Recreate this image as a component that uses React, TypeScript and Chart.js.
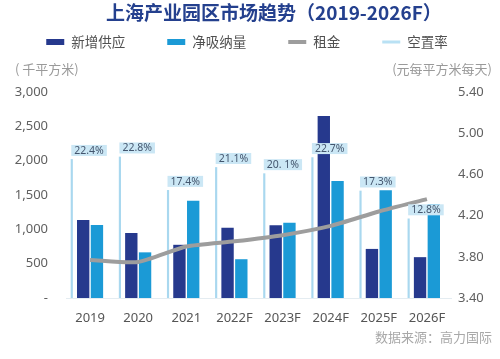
import React, { useEffect, useRef } from 'react';
import { Chart, registerables } from 'chart.js';

Chart.register(...registerables);

// ---------- data ----------
const categories = ['2019', '2020', '2021', '2022F', '2023F', '2024F', '2025F', '2026F'];
const newSupply = [1130, 940, 770, 1020, 1055, 2645, 710, 590];
const netAbsorption = [1060, 660, 1410, 560, 1090, 1700, 1565, 1360];
const rent = [3.77, 3.75, 3.9, 3.95, 4.01, 4.1, 4.24, 4.36];
const vacancyRate = [22.4, 22.8, 17.4, 21.1, 20.1, 22.7, 17.3, 12.8];
const vacancyLabels = ['22.4%', '22.8%', '17.4%', '21.1%', '20. 1%', '22.7%', '17.3%', '12.8%'];
const leftTickLabels = ['-', '500', '1,000', '1,500', '2,000', '2,500', '3,000'];
const rightTickLabels = ['3.40', '3.80', '4.20', '4.60', '5.00', '5.40'];
const seriesNames = ['新增供应', '净吸纳量', '租金', '空置率'];
const titleText = '上海产业园区市场趋势（2019-2026F）';
const leftUnit = '( 千平方米)';
const rightUnit = '(元每平方米每天)';
const sourceText = '数据来源：高力国际';

// ---------- styles ----------
const FONT = '"Noto Sans", "Noto Sans CJK SC", sans-serif';
const CJK_FONT = '"Noto Sans CJK SC", "Noto Sans", sans-serif';
const DARK = '#26398d';
const LIGHT = '#1b9ad6';
const GRAY = '#9d9d9d';
const VAC = '#a9d8ef';
const VAC_LEGEND = '#b9e1f4';
// horizontal offsets (in category widths) of each mark relative to the category centre
const DARK_OFFSET = -0.143;
const LIGHT_OFFSET = 0.143;
const VAC_OFFSET = -0.38;
const BAR_W = 11.7;

const indexed = (arr: number[]) => arr.map((v, i) => ({ x: i, y: v }));

const shiftedAxis = (offset: number) => ({
  type: 'linear',
  display: false,
  offset: false,
  min: -0.5 - offset,
  max: categories.length - 0.5 - offset,
  grid: { display: false, offset: false },
});

const headerPlugin = {
  id: 'header',
  afterDraw(chart: any) {
    const ctx = chart.ctx as CanvasRenderingContext2D;
    ctx.save();
    ctx.textBaseline = 'middle';
    // title
    ctx.font = `bold 19px ${CJK_FONT}`;
    ctx.fillStyle = '#24408e';
    ctx.textAlign = 'left';
    ctx.fillText(titleText, 106, 13);

    // legend
    ctx.font = `13.5px ${CJK_FONT}`;
    const items = chart.data.datasets.map((ds: any) => ({
      text: ds.label as string,
      color: ds.legendColor as string,
      h: ds.legendMarkerHeight as number,
    }));
    const markerW = 18;
    const markerGap = 7;
    const widths = items.map((it: any) => markerW + markerGap + ctx.measureText(it.text).width);
    const gap = 42;
    const total = widths.reduce((a: number, b: number) => a + b, 0) + gap * (items.length - 1);
    let x = 247 - total / 2;
    items.forEach((it: any, i: number) => {
      ctx.fillStyle = it.color;
      ctx.fillRect(x, 42 - it.h / 2, markerW, it.h);
      ctx.fillStyle = '#505050';
      ctx.textAlign = 'left';
      ctx.fillText(it.text, x + markerW + markerGap, 42);
      x += widths[i] + gap;
    });

    // axis units
    ctx.font = `13px ${CJK_FONT}`;
    ctx.fillStyle = '#9a9a9a';
    ctx.textAlign = 'left';
    ctx.fillText(leftUnit, 15, 69);
    ctx.textAlign = 'right';
    ctx.fillText(rightUnit, 492, 69);

    // source
    ctx.fillStyle = '#a8a8a8';
    ctx.fillText(sourceText, 492, 337);
    ctx.restore();
  },
};

const vacancyLabelPlugin = {
  id: 'vacancyLabels',
  afterDatasetsDraw(chart: any) {
    const ctx = chart.ctx as CanvasRenderingContext2D;
    const dsIndex = chart.data.datasets.findIndex((d: any) => d.label === seriesNames[3]);
    const meta = chart.getDatasetMeta(dsIndex);
    ctx.save();
    ctx.font = `10.5px ${FONT}`;
    ctx.textBaseline = 'middle';
    ctx.textAlign = 'left';
    meta.data.forEach((el: any, i: number) => {
      const text = vacancyLabels[i];
      const w = ctx.measureText(text).width + 6;
      const h = 11;
      const left = el.x - 0.5;
      const bottom = el.y - 3.5;
      ctx.fillStyle = '#cbe7f5';
      ctx.fillRect(left, bottom - h, w, h);
      ctx.fillStyle = '#44566e';
      ctx.fillText(text, left + 3, bottom - h / 2 + 0.5);
    });
    ctx.restore();
  },
};

export default function App() {
  const ref = useRef<HTMLCanvasElement>(null);

  useEffect(() => {
    if (!ref.current) return;
    const chart = new Chart(ref.current, {
      type: 'bar',
      data: {
        labels: categories,
        datasets: [
          {
            type: 'bar',
            label: seriesNames[0],
            data: indexed(newSupply),
            backgroundColor: DARK,
            legendColor: DARK,
            legendMarkerHeight: 6,
            xAxisID: 'xd',
            yAxisID: 'y',
            grouped: false,
            categoryPercentage: 1,
            barPercentage: 1,
            maxBarThickness: BAR_W,
            order: 1,
          } as any,
          {
            type: 'bar',
            label: seriesNames[1],
            data: indexed(netAbsorption),
            backgroundColor: LIGHT,
            legendColor: LIGHT,
            legendMarkerHeight: 6,
            xAxisID: 'xl',
            yAxisID: 'y',
            grouped: false,
            categoryPercentage: 1,
            barPercentage: 1,
            maxBarThickness: BAR_W,
            order: 1,
          } as any,
          {
            type: 'line',
            label: seriesNames[2],
            data: rent,
            borderColor: GRAY,
            backgroundColor: GRAY,
            legendColor: GRAY,
            legendMarkerHeight: 4,
            borderWidth: 4,
            pointRadius: 0,
            tension: 0.2,
            xAxisID: 'x',
            yAxisID: 'y1',
            order: 0,
          } as any,
          {
            type: 'bar',
            label: seriesNames[3],
            data: indexed(vacancyRate),
            backgroundColor: VAC,
            legendColor: VAC_LEGEND,
            legendMarkerHeight: 3,
            xAxisID: 'xv',
            yAxisID: 'yv',
            grouped: false,
            categoryPercentage: 1,
            barPercentage: 1,
            maxBarThickness: 1.5,
            order: 2,
          } as any,
        ],
      },
      options: {
        responsive: false,
        animation: false,
        devicePixelRatio: 1,
        layout: { padding: { top: 92, left: 0, right: 0, bottom: 0 } },
        plugins: {
          legend: { display: false },
          title: { display: false },
          tooltip: { enabled: false },
        },
        scales: {
          x: {
            type: 'category',
            offset: true,
            grid: { display: false, drawTicks: false },
            border: { display: true, color: '#e4ecf1', width: 1 },
            ticks: {
              font: { family: FONT, size: 13 },
              color: '#555555',
              padding: 12,
              autoSkip: false,
              maxRotation: 0,
            },
            afterFit: (s: any) => {
              s.height = 61;
            },
          },
          xd: shiftedAxis(DARK_OFFSET),
          xl: shiftedAxis(LIGHT_OFFSET),
          xv: shiftedAxis(VAC_OFFSET),
          y: {
            type: 'linear',
            position: 'left',
            min: 0,
            max: 3000,
            grid: { display: false, drawTicks: false },
            border: { display: false },
            ticks: {
              stepSize: 500,
              font: { family: FONT, size: 13 },
              color: '#606060',
              padding: 18,
              callback: (_v: any, i: number) => leftTickLabels[i],
            },
            afterFit: (s: any) => {
              s.width = 66;
            },
          },
          y1: {
            type: 'linear',
            position: 'right',
            min: 3.4,
            max: 5.4,
            beginAtZero: false,
            grid: { display: false, drawTicks: false },
            border: { display: false },
            ticks: {
              stepSize: 0.4,
              font: { family: FONT, size: 13 },
              color: '#606060',
              padding: 7,
              callback: (_v: any, i: number) => rightTickLabels[i],
            },
            afterFit: (s: any) => {
              s.width = 49;
            },
          },
          yv: {
            type: 'linear',
            display: false,
            min: 0,
            max: 33.3,
          },
        },
      } as any,
      plugins: [vacancyLabelPlugin, headerPlugin],
    });
    return () => chart.destroy();
  }, []);

  return (
    <div style={{ position: 'fixed', left: 0, top: 0, width: 500, height: 359, background: '#ffffff' }}>
      <canvas ref={ref} width={500} height={359} style={{ display: 'block', width: 500, height: 359 }} />
    </div>
  );
}
